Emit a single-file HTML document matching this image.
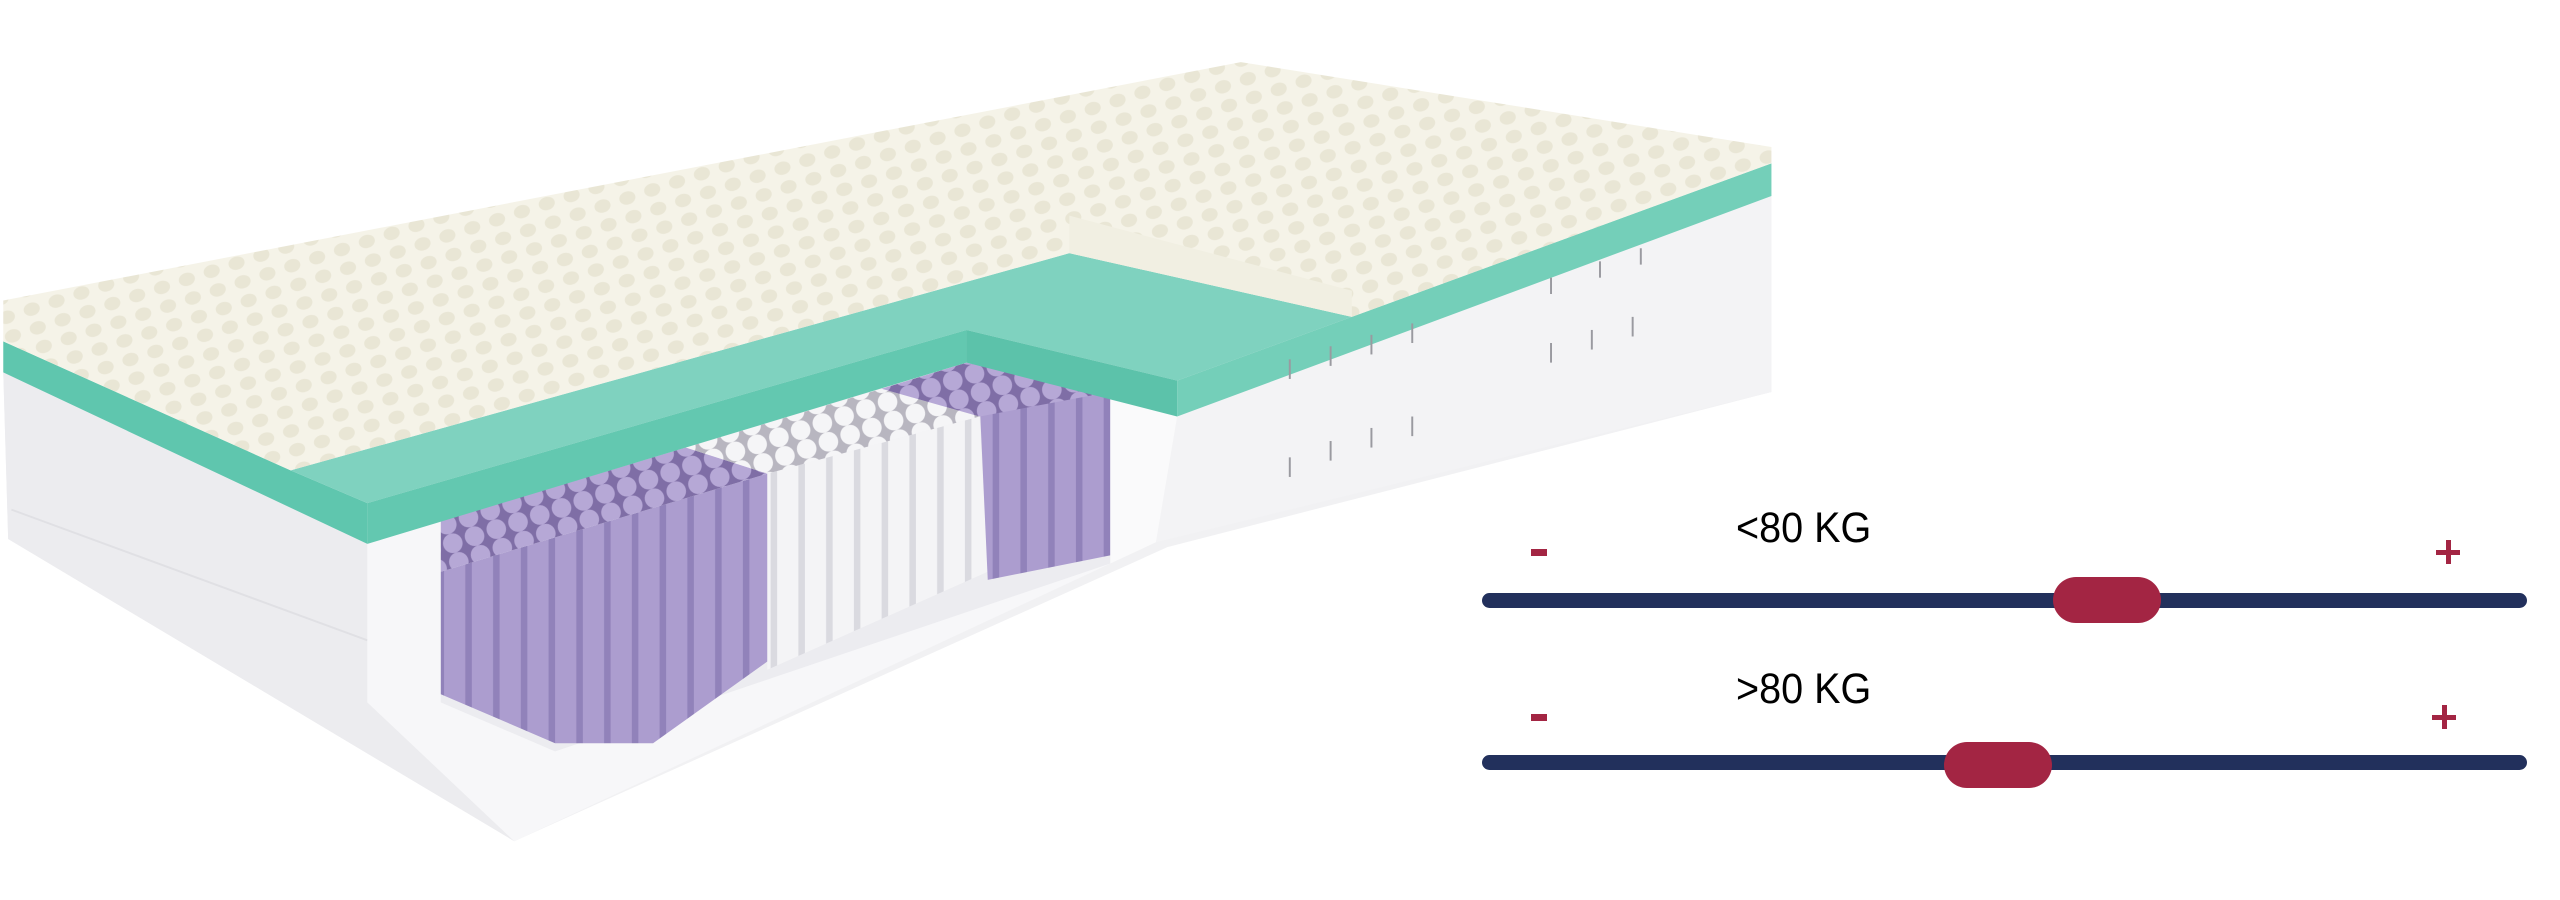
<!DOCTYPE html>
<html><head><meta charset="utf-8"><style>
html,body{margin:0;padding:0;background:#fff;}
#c{position:relative;width:2560px;height:900px;overflow:hidden;background:#fff;font-family:"Liberation Sans",sans-serif;}
svg{position:absolute;left:0;top:0;}
.bar{position:absolute;left:1482px;width:1045px;height:15px;background:#22305c;border-radius:8px;}
.knob{position:absolute;width:108px;height:46px;background:#a32543;border-radius:23px;}
.lbl{position:absolute;font-size:43px;color:#000;transform:scaleX(0.92);transform-origin:left top;}
.minus{position:absolute;width:16px;height:7px;background:#a32543;}
.ph{position:absolute;width:24px;height:5px;background:#a32543;}
.pv{position:absolute;width:5px;height:24px;background:#a32543;}
</style></head><body><div id="c">
<svg width="2560" height="900" viewBox="0 0 1568 551" preserveAspectRatio="none">
<defs>
<pattern id="foam" width="16" height="12" patternUnits="userSpaceOnUse" patternTransform="rotate(-18)">
<rect width="16" height="12" fill="#f5f3e8"/><ellipse cx="8" cy="6" rx="5" ry="4" fill="#e9e6d5"/>
</pattern>
<pattern id="pur" width="17" height="30" patternUnits="userSpaceOnUse">
<rect width="17" height="30" fill="#ac9dcf"/><rect x="13" width="4" height="30" fill="#9182ba"/>
</pattern>
<pattern id="wht" width="17" height="30" patternUnits="userSpaceOnUse">
<rect width="17" height="30" fill="#f4f4f6"/><rect x="13" width="4" height="30" fill="#dadae0"/>
</pattern>
<pattern id="tops" width="14" height="12" patternUnits="userSpaceOnUse" patternTransform="rotate(-18)">
<rect width="14" height="12" fill="#7f6ea6"/><circle cx="7" cy="6" r="6" fill="#b6a8d6"/>
</pattern>
<pattern id="wtops" width="14" height="12" patternUnits="userSpaceOnUse" patternTransform="rotate(-18)">
<rect width="14" height="12" fill="#b8b6c0"/><circle cx="7" cy="6" r="6" fill="#f5f5f7"/>
</pattern>
</defs>
<!-- base -->
<polygon points="2,228 1085,100 1085,240 715,335 315,515 5,330" fill="#f1f1f3"/>
<polygon points="2,228 225,333 225,430 315,515 5,330" fill="#ececef"/>
<line x1="7" y1="312" x2="225" y2="392" stroke="#e0e0e4" stroke-width="1.2"/>
<polygon points="225,333 270,319 270,430 340,460 680,345 708,332 315,515 225,430" fill="#f7f7f9"/>
<polygon points="721,255 1085,118 1085,240 708,332" fill="#f3f3f5"/>
<polygon points="678,240 721,255 708,332 680,345" fill="#fafafb"/>
<polygon points="270,319 592,222 680,240 680,345 340,460 270,430" fill="#ececf0"/>
<!-- springs -->
<polygon points="270,350 470,290 470,405 400,455 340,455 270,425" fill="url(#pur)"/>
<polygon points="470,290 600,255 605,350 470,410" fill="url(#wht)"/>
<polygon points="600,245 680,240 680,340 605,355" fill="url(#pur)"/>
<polygon points="270,319 420,274 470,290 270,350" fill="url(#tops)"/>
<polygon points="420,274 540,238 600,255 470,290" fill="url(#wtops)"/>
<polygon points="540,238 592,222 680,240 600,255" fill="url(#tops)"/>
<!-- teal -->
<polygon points="2,209 178,288 225,308 225,333 2,228" fill="#5fc6ae"/>
<polygon points="178,288 655,155 828,194 721,233 592,202 225,308" fill="#7fd2bf"/>
<polygon points="225,308 592,202 592,222 225,333" fill="#63c8b0"/>
<polygon points="592,202 721,233 721,255 592,222" fill="#5cc2aa"/>
<polygon points="721,233 828,194 1085,100 1085,120 721,255" fill="#74cfb9"/>
<!-- foam -->
<polygon points="2,184 760,38 1085,90 1085,100 828,194 655,155 178,288 2,209" fill="url(#foam)"/>
<polygon points="655,132 828,178 828,194 655,155" fill="#f1efe2"/>
<g stroke="#9a9aa0" stroke-width="1.2">
<line x1="790" y1="220" x2="790" y2="232"/><line x1="815" y1="212" x2="815" y2="224"/><line x1="840" y1="205" x2="840" y2="217"/><line x1="865" y1="198" x2="865" y2="210"/>
<line x1="790" y1="280" x2="790" y2="292"/><line x1="815" y1="270" x2="815" y2="282"/><line x1="840" y1="262" x2="840" y2="274"/><line x1="865" y1="255" x2="865" y2="267"/>
<line x1="950" y1="170" x2="950" y2="180"/><line x1="980" y1="160" x2="980" y2="170"/><line x1="1005" y1="152" x2="1005" y2="162"/>
<line x1="950" y1="210" x2="950" y2="222"/><line x1="975" y1="202" x2="975" y2="214"/><line x1="1000" y1="194" x2="1000" y2="206"/>
</g>
</svg>
<div class="lbl" style="left:1736px;top:504px;">&lt;80 KG</div>
<div class="minus" style="left:1531px;top:549px;"></div>
<div class="ph" style="left:2436px;top:550px;"></div><div class="pv" style="left:2446px;top:540px;"></div>
<div class="bar" style="top:593px;"></div>
<div class="knob" style="left:2053px;top:577px;"></div>
<div class="lbl" style="left:1736px;top:665px;">&gt;80 KG</div>
<div class="minus" style="left:1531px;top:714px;"></div>
<div class="ph" style="left:2432px;top:715px;"></div><div class="pv" style="left:2442px;top:705px;"></div>
<div class="bar" style="top:755px;"></div>
<div class="knob" style="left:1944px;top:742px;"></div>
</div></body></html>
